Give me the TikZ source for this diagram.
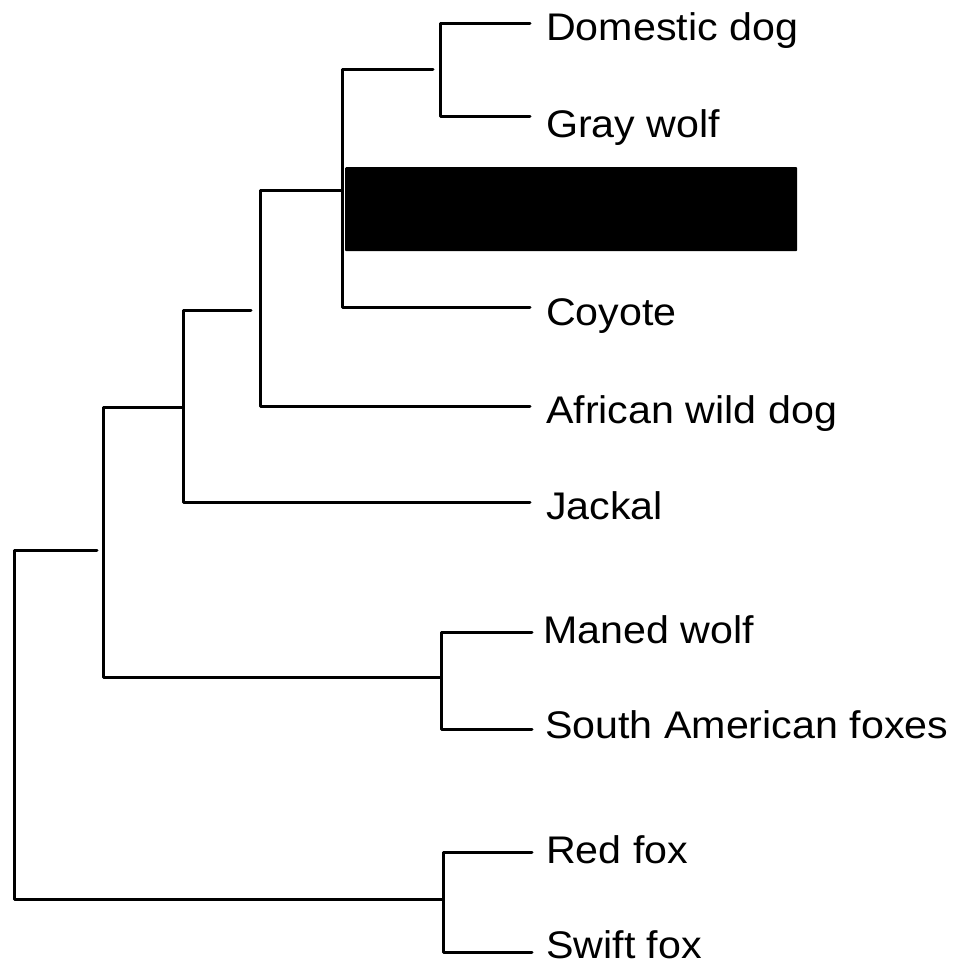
\documentclass[tikz,border=0pt]{standalone}
\usepackage{fontspec}
\setmainfont{Liberation Sans}[FakeStretch=1.07]
\usetikzlibrary{positioning}
\tikzset{
    % Branch lines of the tree
    branch/.style={
        line width=3pt,
        draw=black,
        line cap=round,
        line join=round
    },
    % Taxon label
    taxon/.style={
        anchor=base west,
        inner sep=0pt,
        font=\fontsize{38.5}{40}\selectfont
    },
    % Covered label
    hidebox/.style={
        fill=black,
        rounded corners=1pt,
        inner sep=0pt,
        anchor=north west,
        minimum width=452pt,
        minimum height=84pt
    }
}
\begin{document}
\begin{tikzpicture}[x=1pt,y=-1pt]
    \useasboundingbox (0,0) rectangle (955,962);
    % tips
    \coordinate (dd) at (530,23);
    \coordinate (gw) at (530,116);
    \coordinate (cy) at (530,307);
    \coordinate (aw) at (530,406);
    \coordinate (ja) at (530,502);
    \coordinate (mw) at (532,632);
    \coordinate (sa) at (532,729);
    \coordinate (rf) at (532,852);
    \coordinate (sf) at (532,952);
    % labels
    \node[taxon] (ddl) at (546,40) {Domestic dog};
    \node[taxon] (gwl) at (546,137) {Gray wolf};
    \node[hidebox] (hid) at (345,167) {};
    \node[taxon] (cyl) at (546,325) {Coyote};
    \node[taxon] (awl) at (546,423) {African wild dog};
    \node[taxon] (jal) at (546,519) {Jackal};
    \node[taxon] (mwl) at (543,643) {Maned wolf};
    \node[taxon] (sal) at (545,738) {South American foxes};
    \node[taxon] (rfl) at (546,863) {Red fox};
    \node[taxon] (sfl) at (546,958) {Swift fox};
    % inner nodes
    \coordinate (n1) at (440,69);
    \coordinate (n1s) at (433,69);
    \coordinate (n2) at (342,69);
    \coordinate (n2s) at (342,190);
    \coordinate (n3) at (260,190);
    \coordinate (n3s) at (251,310);
    \coordinate (n4) at (183,310);
    \coordinate (n4s) at (183,407);
    \coordinate (n5) at (103,407);
    \coordinate (n6) at (441,677);
    \coordinate (n6s) at (97,550);
    \coordinate (n7) at (14,550);
    \coordinate (n8) at (443,899);
    % branches
    \draw[branch] (dd) -| (n1) |- (gw);
    \draw[branch] (n1s) -- (n2) |- (cy);
    \draw[branch] (n2s) -- (n3) |- (aw);
    \draw[branch] (n3s) -- (n4) |- (ja);
    \draw[branch] (n4s) -- (n5) |- (n6);
    \draw[branch] (mw) -| (n6) |- (sa);
    \draw[branch] (n6s) -- (n7) |- (n8);
    \draw[branch] (rf) -| (n8) |- (sf);
\end{tikzpicture}
\end{document}
